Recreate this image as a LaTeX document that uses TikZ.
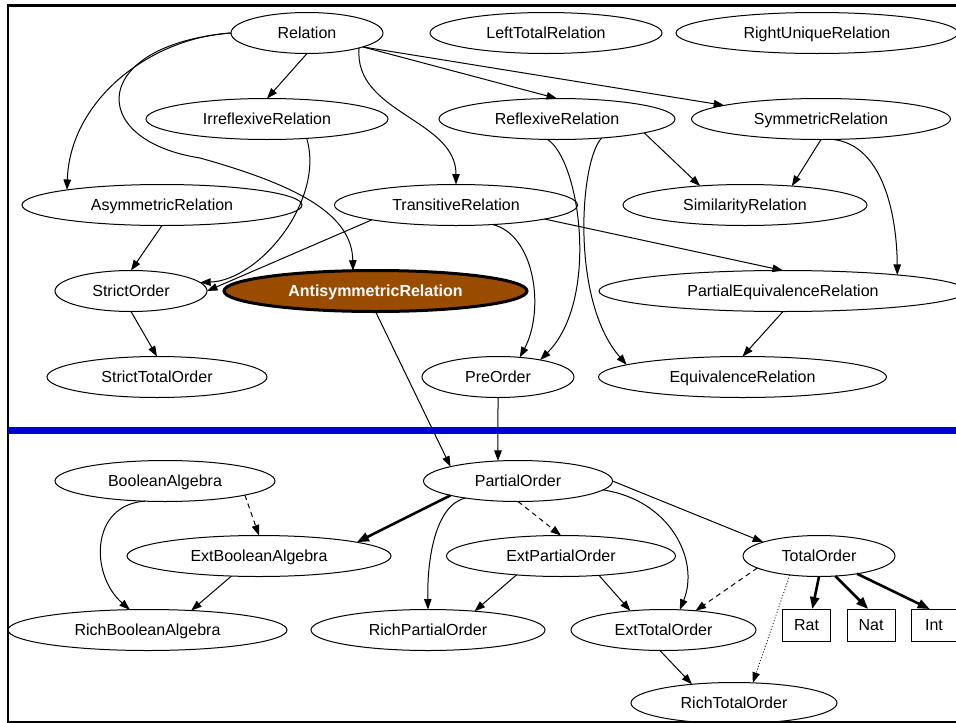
\documentclass[tikz,border=0pt]{standalone}
\usepackage{fontspec}
\setmainfont{Liberation Sans}
\usetikzlibrary{shapes.geometric}
\usetikzlibrary{arrows.meta}

\begin{document}
\begin{tikzpicture}[x=1pt, y=-1pt,
    every node/.style={inner sep=0, outer sep=0, text height=11.5pt, text depth=0pt,
                       font=\fontsize{16}{19}\selectfont},
    cls/.style={ellipse, draw, line width=1pt, minimum height=41pt, minimum width=#1},
    box/.style={rectangle, draw, line width=1pt, minimum height=32pt, minimum width=#1},
    link/.style={line width=1pt, -{Triangle[length=10.5pt, width=7.5pt]}},
    strong/.style={line width=2.6pt, -{Triangle[length=12pt, width=9pt]}},
    weak/.style={link, dash pattern=on 5pt off 4pt},
    faint/.style={link, line width=0.8pt, dash pattern=on 1pt off 2pt}]
        % Colors
        \definecolor{antibrown}{RGB}{153,76,0}
        \definecolor{sepblue}{RGB}{0,0,204}

        \clip (0,0) rectangle (956,723);
        \draw[line width=2.5pt] (8,5.5) rectangle (975,722);

        % Relations
        \node[cls=152pt] (rel) at (307,33) {Relation};
        \node[cls=232pt] (ltr) at (546,33) {LeftTotalRelation};
        \node[cls=282pt] (rur) at (817,33) {RightUniqueRelation};
        \node[cls=242pt] (irr) at (267,119) {IrreflexiveRelation};
        \node[cls=236pt] (refl) at (557,119) {ReflexiveRelation};
        \node[cls=259pt] (sym) at (821,119) {SymmetricRelation};
        \node[cls=280pt] (asym) at (162,205) {AsymmetricRelation};
        \node[cls=243pt] (trans) at (456,205) {TransitiveRelation};
        \node[cls=244pt] (sim) at (745,205) {SimilarityRelation};
        \node[cls=152pt] (so) at (131,291) {StrictOrder};
        \node[cls=303pt, fill=antibrown, line width=3pt, text=white,
              font=\fontsize{16}{19}\selectfont\bfseries] (anti) at (375.5,291) {AntisymmetricRelation};
        \node[cls=368pt] (peq) at (783,291) {PartialEquivalenceRelation};
        \node[cls=220pt] (sto) at (157,377) {StrictTotalOrder};
        \node[cls=152pt] (pre) at (498,377) {PreOrder};
        \node[cls=288pt] (eqv) at (742.5,377) {EquivalenceRelation};

        % Orders and algebras
        \node[cls=220pt] (ba) at (165,481) {BooleanAlgebra};
        \node[cls=189pt] (po) at (518,481) {PartialOrder};
        \node[cls=264pt] (eba) at (259,556) {ExtBooleanAlgebra};
        \node[cls=229pt] (epo) at (561,556) {ExtPartialOrder};
        \node[cls=152pt] (tot) at (819,556) {TotalOrder};
        \node[cls=279pt] (rba) at (147.5,630) {RichBooleanAlgebra};
        \node[cls=234pt] (rpo) at (428,630) {RichPartialOrder};
        \node[cls=185pt] (eto) at (663.5,630) {ExtTotalOrder};
        \node[box=48pt] (rat) at (806.5,625) {Rat};
        \node[box=48pt] (nat) at (871,625) {Nat};
        \node[box=46pt] (int) at (934,625) {Int};
        \node[cls=206pt] (rto) at (734,703) {RichTotalOrder};

        % Upper part
        \draw[link] (rel.south) -- (irr.north);
        \draw[link] (rel.-14) -- (refl.north);
        \draw[link] (rel.-14) -- (sym.172);
        \draw[link] (rel.-16) to[out=-95, in=90] (trans.north);
        \draw[link] (rel.west) .. controls (150,38) and (70,100) .. (asym.171);
        \draw[link] (rel.west) .. controls (90,45) and (85,140) .. (200,158)
              .. controls (300,186) and (352,215) .. (anti.138);
        \draw[link] (irr.-26) .. controls (325,200) and (260,280) .. (so.7);
        \draw[link] (trans.190) -- (so.east);
        \draw[link] (asym.south) -- (so.north);
        \draw[link] (trans.-28) .. controls (535,235) and (545,310) .. (pre.42);
        \draw[link] (trans.-9) -- (peq.north);
        \draw[link] (refl.-115) .. controls (580,160) and (600,300) .. (pre.22);
        \draw[link] (refl.-23) .. controls (580,160) and (570,300) .. (eqv.174);
        \draw[link] (refl.-9) -- (sim.157);
        \draw[link] (sym.south) -- (sim.22);
        \draw[link] (sym.-60) .. controls (885,145) and (897,220) .. (peq.8.5);
        \draw[link] (peq.south) -- (eqv.north);
        \draw[link] (so.south) -- (sto.north);
        \draw[link] (anti.south) -- (po.168);
        \draw[link] (pre.south) -- (po.135);

        % Lower part
        \draw[weak] (ba.-10) -- (eba.north);
        \draw[link] (ba.-135) .. controls (90,505) and (90,575) .. (rba.131);
        \draw[link] (eba.216) -- (rba.24);
        \draw[strong] (po.192) -- (eba.8);
        \draw[link] (po.198) .. controls (435,505) and (427,560) .. (rpo.north);
        \draw[weak] (po.south) -- (epo.north);
        \draw[link] (po.-6) .. controls (670,500) and (700,560) .. (eto.51);
        \draw[link] (po.east) -- (tot.166);
        \draw[link] (epo.203) -- (rpo.22);
        \draw[link] (epo.-27) -- (eto.150);
        \draw[weak] (tot.191) -- (eto.31);
        \draw[faint] (tot.213) -- (rto.47);
        \draw[strong] (tot.south) -- (rat.70);
        \draw[strong] (tot.-51) -- (nat.100);
        \draw[strong] (tot.-25) -- (int.105);
        \draw[link] (eto.-100) -- (rto.156);

        % Separator
        \draw[line width=7pt, sepblue] (8,430.5) -- (975,430.5);
\end{tikzpicture}
\end{document}
